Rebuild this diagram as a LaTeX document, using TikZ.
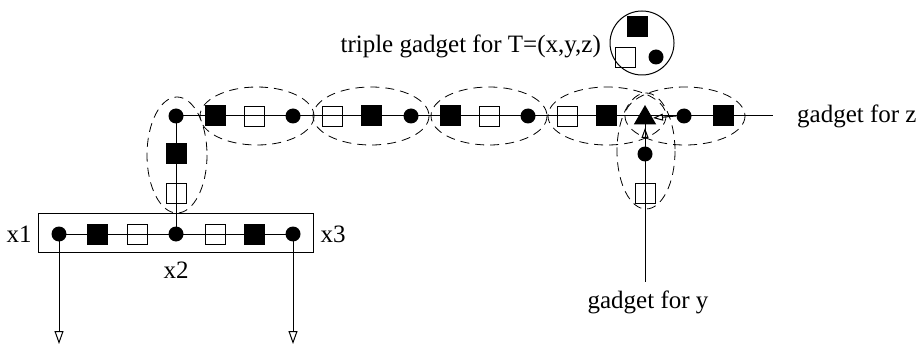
\documentclass[tikz,border=0pt]{standalone}
\usepackage{fontspec}
\setmainfont{Liberation Serif}
\usetikzlibrary{arrows.meta,shapes.geometric}

\tikzset{
  dot/.style={circle,fill=black,inner sep=0pt,minimum size=7.5pt},
  bsq/.style={rectangle,draw=black,fill=black,inner sep=0pt,minimum size=10pt},
  wsq/.style={rectangle,draw=black,inner sep=0pt,minimum size=10pt,line width=.4pt},
  tri/.style={regular polygon,regular polygon sides=3,fill=black,inner sep=0pt,minimum size=13pt},
  gadget/.style={dashed,dash pattern=on 4.5pt off 3pt,line width=.4pt},
  bigarrow/.style={-{Triangle[open,length=6.5pt,width=4.5pt]}},
  smallarrow/.style={-{Triangle[open,length=5pt,width=3.5pt]}},
  lbl/.style={font=\fontsize{12.5}{14}\selectfont}
}

\begin{document}
\begin{tikzpicture}[x=0.5pt,y=-0.5pt,line width=.5pt]
      \useasboundingbox (0,0) rectangle (919,347);

      % variable gadget x
      \draw (38,213) rectangle (313,252);
      \node [lbl] (x1) at (19,234) {x1};
      \node [lbl] (x3) at (333,234) {x3};
      \node [lbl] (x2) at (176,270) {x2};

      \coordinate (zend) at (773,116);
      \coordinate (yend) at (645,282);
      \coordinate (out1) at (59,344);
      \coordinate (out3) at (293,344);

      % lines first, nodes on top
      \draw (59,234) -- (293,234);
      \draw (176,234) -- (176,116) -- (zend);
      \draw (645,116) -- (yend);
      \draw [bigarrow] (59,234) -- (out1);
      \draw [bigarrow] (293,234) -- (out3);

      % bottom row
      \node [dot] (a1) at (59,234) {};
      \node [bsq] (a2) at (97,234) {};
      \node [wsq] (a3) at (137,234) {};
      \node [dot] (a4) at (176,234) {};
      \node [wsq] (a5) at (215,234) {};
      \node [bsq] (a6) at (254,234) {};
      \node [dot] (a7) at (293,234) {};

      % column up
      \node [wsq] (v1) at (176,193) {};
      \node [bsq] (v2) at (176,154) {};
      \node [dot] (v3) at (176,116) {};

      % top row
      \node [bsq] (t1) at (215,116) {};
      \node [wsq] (t2) at (254,116) {};
      \node [dot] (t3) at (293,116) {};
      \node [wsq] (t4) at (332,116) {};
      \node [bsq] (t5) at (371,116) {};
      \node [dot] (t6) at (411,116) {};
      \node [bsq] (t7) at (450,116) {};
      \node [wsq] (t8) at (489,116) {};
      \node [dot] (t9) at (528,116) {};
      \node [wsq] (t10) at (567,116) {};
      \node [bsq] (t11) at (606,116) {};
      \node [tri] (tz) at (645,118) {};
      \node [dot] (t12) at (684,116) {};
      \node [bsq] (t13) at (723,116) {};

      % y branch
      \node [dot] (y1) at (645,154) {};
      \node [wsq] (y2) at (645,193) {};

      \draw [smallarrow] (t12.west) -- ([xshift=4pt]tz.center);
      \draw [smallarrow] (y1.north) -- ([yshift=-5pt]tz.center);

      % dashed gadgets
      \draw [gadget] (177,155) ellipse (30 and 58);
      \draw [gadget] (257,116) ellipse (57 and 29);
      \draw [gadget] (371,116) ellipse (58 and 29);
      \draw [gadget] (489,116) ellipse (58 and 29);
      \draw [gadget] (607,116) ellipse (59 and 29);
      \draw [gadget] (685,116) ellipse (60 and 29);
      \draw [gadget] (646,151) ellipse (29 and 58);

      \node [lbl,anchor=west] (gz) at (790,116) {gadget for z};
      \node [lbl] (gy) at (648,302) {gadget for y};

      % triple gadget
      \node [lbl,anchor=east] (tlbl) at (608,46) {triple gadget for T=(x,y,z)};
      \node [circle,draw,minimum size=32pt,inner sep=0pt] (T) at (642,43) {};
      \node [bsq] (T1) at (637,27) {};
      \node [wsq] (T2) at (625,57) {};
      \node [dot] (T3) at (656,57) {};
    \end{tikzpicture}
\end{document}
